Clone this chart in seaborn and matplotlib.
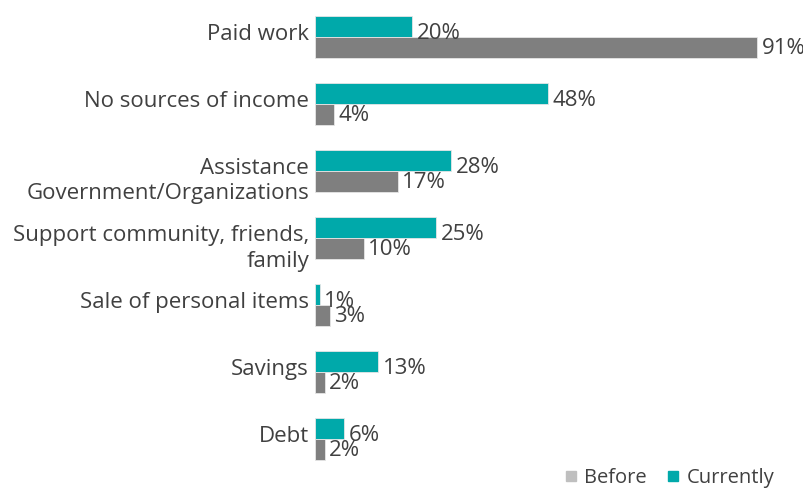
import matplotlib
matplotlib.use("Agg")
import matplotlib.pyplot as plt
from matplotlib.lines import Line2D
from matplotlib.transforms import ScaledTranslation
import seaborn as sns
import pandas as pd

categories = [
    "Paid work",
    "No sources of income",
    "Assistance\nGovernment/Organizations",
    "Support community, friends,\nfamily",
    "Sale of personal items",
    "Savings",
    "Debt",
]
currently = [20, 48, 28, 25, 1, 13, 6]
before = [91, 4, 17, 10, 3, 2, 2]
periods = ["Currently", "Before"]

TEAL = "#00A9AA"
GRAY = "#7F7F7F"
LEGEND_GRAY = "#BFBFBF"
TEXT = "#404040"
FS = 16

df = pd.DataFrame({
    "category": categories * 2,
    "period": ["Currently"] * len(categories) + ["Before"] * len(categories),
    "value": currently + before,
})

sns.set_theme(style="white")
plt.rcParams["font.family"] = ["Open Sans", "DejaVu Sans"]

fig = plt.figure(figsize=(8.04, 4.88), dpi=100)
ax = fig.add_axes([315 / 804, 1 - 472.5 / 488, 485.7 / 804, 469 / 488])

sns.barplot(
    data=df, x="value", y="category", hue="period",
    hue_order=periods, order=categories,
    palette={"Currently": TEAL, "Before": GRAY}, saturation=1,
    orient="h", width=0.63, edgecolor="#E6E6E6", linewidth=0.6,
    legend=False, ax=ax,
)

ax.set_xlim(0, 100)
ax.set_ylim(len(categories) - 0.5, -0.5)
ax.set_xlabel("")
ax.set_ylabel("")
ax.set_xticks([])
ax.tick_params(axis="y", length=0, pad=4.3, labelsize=FS, labelcolor=TEXT)
for lbl in ax.get_yticklabels():
    lbl.set_linespacing(1.25)
    # single-line labels sit a little high, wrapped ones a little low
    dy = -6 if "\n" in lbl.get_text() else 5
    lbl.set_transform(lbl.get_transform() + ScaledTranslation(0, dy / 100, fig.dpi_scale_trans))
sns.despine(ax=ax, left=True, bottom=True)

# value labels at the end of each bar
for container, level in zip(ax.containers, periods):
    dy = -5.2 if level == "Currently" else -0.4
    for bar in container:
        w = bar.get_width()
        yc = bar.get_y() + bar.get_height() / 2
        ax.annotate(f"{w:.0f}%", xy=(w, yc), xytext=(3.2, dy),
                    textcoords="offset points", va="center", ha="left",
                    fontsize=FS, color=TEXT)

handles = [
    Line2D([], [], marker="s", linestyle="", markersize=7.2,
           markerfacecolor=LEGEND_GRAY, markeredgecolor=LEGEND_GRAY, label="Before"),
    Line2D([], [], marker="s", linestyle="", markersize=7.2,
           markerfacecolor=TEAL, markeredgecolor=TEAL, label="Currently"),
]
fig.legend(handles=handles, loc="center right", ncol=2, frameon=False,
           bbox_to_anchor=(774 / 804, 1 - 478 / 488), fontsize=14.5,
           labelcolor=TEXT, handletextpad=0.35, columnspacing=1.0,
           handlelength=0.6, borderaxespad=0, borderpad=0)

fig.savefig("out.png", dpi=100)
